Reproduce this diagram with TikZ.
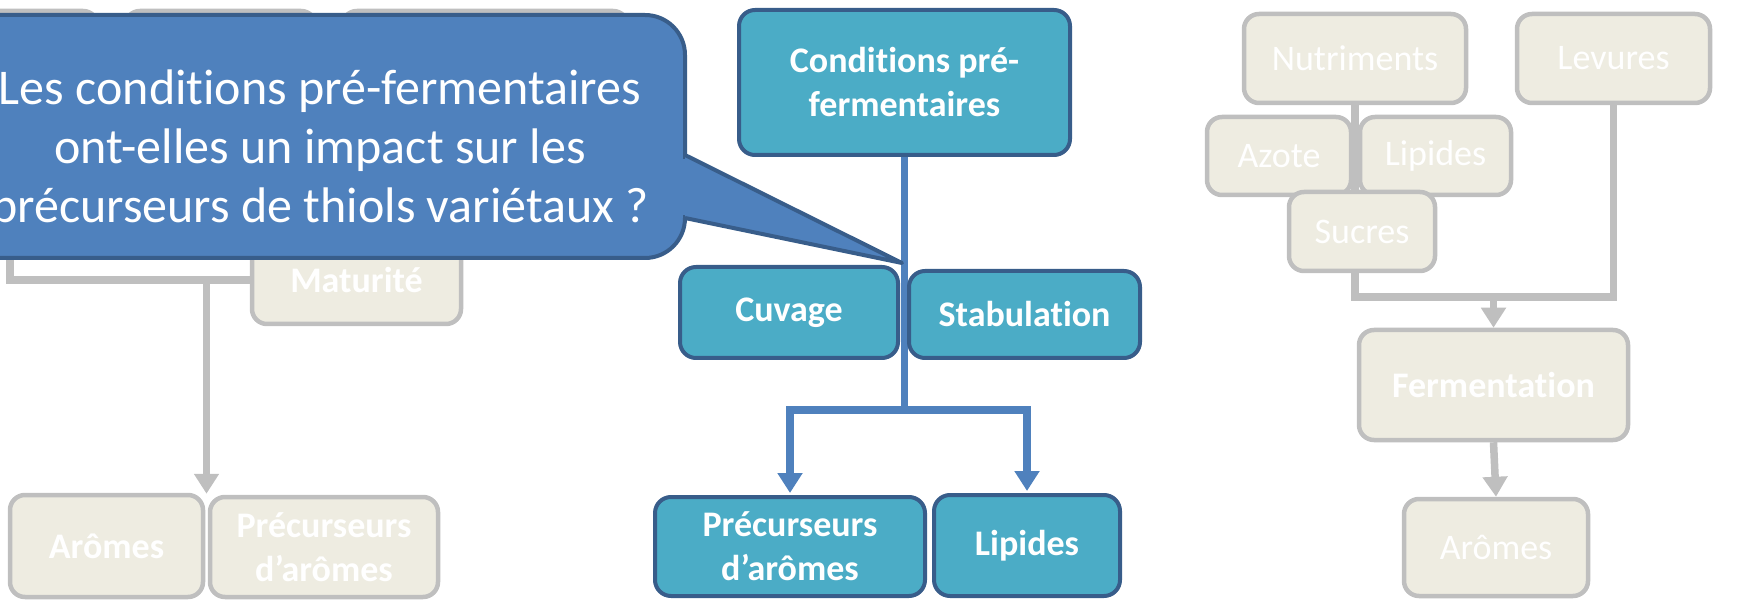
\documentclass[tikz,border=0pt]{standalone}
\usepackage{fontspec}
\setmainfont{Carlito}[Ligatures=NoCommon]
\usetikzlibrary{arrows.meta,calc}
\definecolor{qblue}{HTML}{4F81BD}
\definecolor{qborder}{HTML}{385D8A}
\definecolor{turq}{HTML}{4BACC6}
\definecolor{beige}{HTML}{EEECE1}
\definecolor{greyline}{HTML}{BFBFBF}
\begin{document}
\begin{tikzpicture}[x=1pt, y=-1pt]
    \tikzstyle{box} = [draw=qborder, line width=4pt, fill=turq, rounded corners=16pt, text=white, align=center, inner sep=0pt, font=\bfseries\fontsize{36}{44}\selectfont]
    \tikzstyle{greybox} = [draw=greyline, line width=4.5pt, fill=beige, rounded corners=15pt, text=white, align=center, inner sep=0pt, font=\fontsize{36}{44}\selectfont]
    \tikzstyle{greybold} = [greybox, font=\bfseries\fontsize{36}{44}\selectfont]
    \tikzstyle{link} = [draw=qblue, line width=7.5pt]
    \tikzstyle{arrowlink} = [link, -{Triangle[width=24pt, length=20pt]}]
    \tikzstyle{greylink} = [draw=greyline, line width=7.5pt]
    \tikzstyle{greyarrow} = [greylink, -{Triangle[width=24pt, length=20pt]}]
    \tikzstyle{bubble} = [fill=qblue, draw=qborder, line width=4pt]

    \useasboundingbox (0,0) rectangle (1740,601);

    % left column, mostly behind the question
    \node[greybox, minimum width=156, minimum height=98] (hidA) at (20,60) {};
    \node[greybox, minimum width=191, minimum height=98] (hidB) at (220.5,60) {};
    \node[greybox, minimum width=286, minimum height=98] (hidC) at (485,60) {};
    \node[greybold, minimum width=209, minimum height=88] (mat) at (356.5,280) {Maturité};
    \node[greybold, minimum width=193, minimum height=102] (aromL) at (106.5,546) {Arômes};
    \node[greybold, minimum width=228, minimum height=100] (precL) at (324,547) {Précurseurs\\d’arômes};
    \coordinate (lsrc) at (10,120);
    \coordinate (ltgt) at ($(aromL.north east)!0.5!(precL.north west)$);
    \draw[greylink] (lsrc) |- (mat.west);
    \draw[greyarrow] (ltgt |- mat.west) -- (ltgt);

    % centre column
    \coordinate (br) at (904.5,410);
    \node[box, minimum width=331, minimum height=145] (cond) at (904.5,82.5) {Conditions pré-\\fermentaires};
    \draw[link] (cond.south) -- (br);
    \node[box, minimum width=218, minimum height=91] (cuv) at (789,312.5) {Cuvage};
    \node[box, minimum width=231, minimum height=87] (stab) at (1024.5,314.5) {Stabulation};
    \draw[arrowlink] (br) -| (790,493);
    \draw[arrowlink] (br) -| (1027,491);
    \node[box, minimum width=270, minimum height=99] (precC) at (790,546.5) {Précurseurs\\d’arômes};
    \node[box, minimum width=186, minimum height=101] (lipC) at (1027,545.5) {Lipides};

    % right column
    \node[greybox, minimum width=222, minimum height=89] (nutr) at (1355,58.5) {Nutriments};
    \node[greybox, minimum width=193, minimum height=89] (lev) at (1613.5,58.5) {Levures};
    \node[greybold, minimum width=269, minimum height=110] (ferm) at (1493.5,385) {Fermentation};
    \node[greybox, minimum width=184, minimum height=97] (aromR) at (1496,547.5) {Arômes};
    \coordinate (rj) at (ferm.north |- 0,297);
    \draw[greylink] (nutr.south) -- ++(0,90);
    \draw[greylink] (1355,270) |- (lev.south |- rj) -- (lev.south);
    \node[greybox, minimum width=144, minimum height=78] (azote) at (1279,156) {Azote};
    \node[greybox, minimum width=151, minimum height=78] (lipR) at (1435.5,156) {Lipides};
    \node[greybox, minimum width=146, minimum height=79] (sucres) at (1362,231.5) {Sucres};
    \draw[greyarrow] (rj) -- (ferm.north);
    \draw[greyarrow] (ferm.south) -- (aromR.north);

    % the question
    \coordinate (tip) at (902,263);
    \draw[bubble, rounded corners=40pt] (-45,15) rectangle (685,258);
    \fill[qblue] (685,155) -- (tip) -- (685,218) -- cycle;
    \fill[qblue] (680,159) rectangle (690,215);
    \draw[draw=qborder, line width=4pt, line join=round] (685,155) -- (tip) -- (685,218);
    \node[text=white, align=center, font=\fontsize{50}{59}\selectfont] (quest) at (320,150) {Les conditions pré-fermentaires\\ont-elles un impact sur les\\précurseurs de thiols variétaux ?};
\end{tikzpicture}
\end{document}
